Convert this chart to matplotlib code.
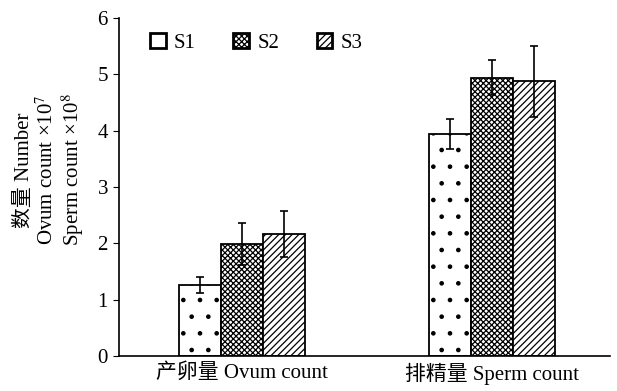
import numpy as np
import matplotlib
matplotlib.use("Agg")
import matplotlib.pyplot as plt

plt.rcParams['font.family'] = ['Liberation Serif', 'Noto Sans CJK SC']
plt.rcParams['mathtext.fontset'] = 'stix'
plt.rcParams['hatch.linewidth'] = 0.9

groups = ["产卵量 Ovum count", "排精量 Sperm count"]
series = ["S1", "S2", "S3"]
values = {
    "S1": [1.26, 3.94],
    "S2": [1.99, 4.94],
    "S3": [2.17, 4.87],
}
errors = {
    "S1": [0.14, 0.27],
    "S2": [0.37, 0.31],
    "S3": [0.41, 0.63],
}
hatches = {"S1": ".", "S2": "xxxxxx", "S3": "/////"}

fig = plt.figure(figsize=(6.17, 3.91), dpi=100)
ax = fig.add_axes([0.193, 0.0895, 0.796, 0.865])

x = np.arange(len(groups))
w = 0.168
for k, s in enumerate(series):
    ax.bar(x + (k - 1) * w, values[s], w, color="white", edgecolor="black",
           linewidth=1.3, hatch=hatches[s], label=s,
           yerr=errors[s], capsize=2.6, error_kw=dict(elinewidth=1.2, capthick=1.2, ecolor="black"))

ax.set_xlim(-0.492, 1.472)
ax.set_ylim(0, 6)
ax.set_yticks(range(0, 7))
ax.set_xticks(x)
ax.set_xticklabels(groups, fontsize=15)
ax.tick_params(axis="x", length=0, pad=5)
ax.tick_params(axis="y", direction="out", length=4, labelsize=15, pad=4)
ax.spines["top"].set_visible(False)
ax.spines["right"].set_visible(False)
ax.spines["left"].set_linewidth(1.2)
ax.spines["bottom"].set_linewidth(1.2)
ax.set_ylabel("数量 Number\nOvum count ×10$^{7}$\nSperm count ×10$^{8}$", fontsize=15, linespacing=1.1)
ax.yaxis.set_label_coords(-0.068, 0.55)

leg = ax.legend(loc="upper left", ncol=3, frameon=False, fontsize=15,
                handlelength=0.75, handleheight=0.75, columnspacing=1.8, handletextpad=0.4,
                bbox_to_anchor=(0.025, 1.01))
for p in leg.get_patches():
    p.set_linewidth(2.0)

fig.savefig("out.png", dpi=100)
